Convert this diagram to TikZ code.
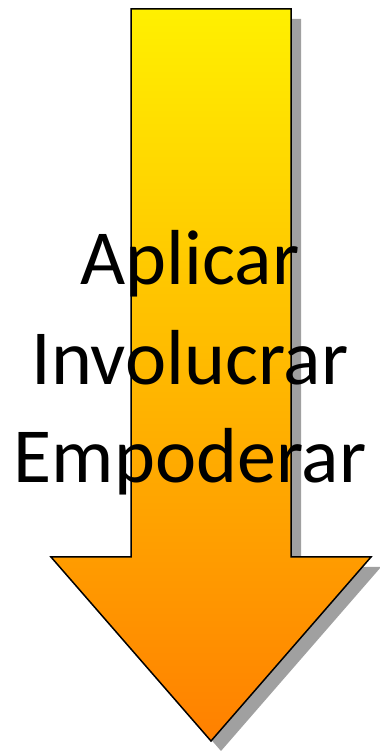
\documentclass[tikz,border=0pt]{standalone}
\usepackage{fontspec}
\setmainfont{Carlito}
\definecolor{arrtop}{RGB}{255,240,0}
\definecolor{arrmid}{RGB}{255,192,0}
\definecolor{arrbot}{RGB}{255,128,0}
\definecolor{shadowgray}{RGB}{160,160,160}
\tikzset{
  arrowbody/.style={draw=black,line width=1.5pt,line join=miter,top color=arrtop,middle color=arrmid,bottom color=arrbot},
  arrowshadow/.style={fill=shadowgray,draw=none},
  bigtext/.style={anchor=base,inner sep=0pt,font=\fontsize{78}{94}\selectfont,text=black}
}
\begin{document}
\begin{tikzpicture}[x=1pt,y=1pt]
\useasboundingbox (0,0) rectangle (380,753);
% shadow
\path[arrowshadow] (141,734) -- (301,734) -- (301,186) -- (381,186) -- (221,2) -- (61,186) -- (141,186) -- cycle;
% arrow
\path[arrowbody] (131,744) -- (291,744) -- (291,196) -- (371,196) -- (211,12) -- (51,196) -- (131,196) -- cycle;
% text
\node[bigtext] (t1) at (190,468) {Aplicar};
\node[bigtext] (t2) at (190,368) {Involucrar};
\node[bigtext] (t3) at (190,270) {Empoderar};
\end{tikzpicture}
\end{document}
